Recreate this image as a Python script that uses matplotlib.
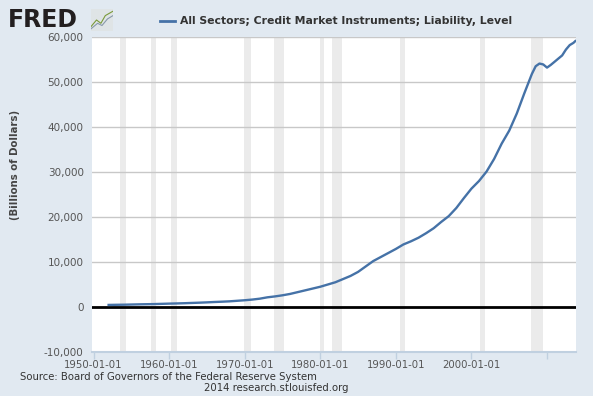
import matplotlib
matplotlib.use("Agg")
import matplotlib.pyplot as plt
import matplotlib.dates as mdates
from datetime import date

# series values (billions of dollars)
dates = [date(y, 1, 1) for y in range(1952, 2008)] + [
    date(2008, 1, 1), date(2008, 7, 1), date(2009, 1, 1), date(2009, 7, 1),
    date(2010, 1, 1), date(2010, 7, 1), date(2011, 1, 1), date(2011, 7, 1),
    date(2012, 1, 1), date(2012, 7, 1), date(2013, 1, 1), date(2013, 7, 1),
    date(2013, 10, 1)]
values = [460, 490, 510, 550, 590, 620, 650, 700, 750, 790,
          840, 900, 960, 1030, 1110, 1180, 1260, 1380, 1500, 1650,
          1850, 2150, 2350, 2600, 2900, 3300, 3700, 4100, 4500, 5000,
          5500, 6200, 6900, 7800, 9000, 10200, 11100, 12000, 12900, 13900,
          14600, 15400, 16400, 17500, 18900, 20200, 22000, 24200, 26300, 28000,
          30100, 32900, 36300, 39200, 43000, 47500,
          51800, 53500, 54100, 53900, 53200, 53800, 54500, 55200,
          55900, 57200, 58200, 58700, 59100]

# NBER recessions
recessions = [("1953-07-01", "1954-05-01"), ("1957-08-01", "1958-04-01"),
              ("1960-04-01", "1961-02-01"), ("1969-12-01", "1970-11-01"),
              ("1973-11-01", "1975-03-01"), ("1980-01-01", "1980-07-01"),
              ("1981-07-01", "1982-11-01"), ("1990-07-01", "1991-03-01"),
              ("2001-03-01", "2001-11-01"), ("2007-12-01", "2009-06-01")]

yticks = [-10000, 0, 10000, 20000, 30000, 40000, 50000, 60000]
xtick_years = [1950, 1960, 1970, 1980, 1990, 2000, 2010]

bg = "#e1e9f1"
fig = plt.figure(figsize=(5.93, 3.96), dpi=100, facecolor=bg)
ax = fig.add_axes([92 / 593, 1 - 352 / 396, (576 - 92) / 593, (352 - 37) / 396])
ax.set_facecolor("white")

for a, b in recessions:
    ax.axvspan(mdates.datestr2num(a), mdates.datestr2num(b), color="#ebebeb", lw=0, zorder=0)

for v in yticks[2:]:
    ax.axhline(v, color="#c8c8c8", lw=1, zorder=1)
ax.axhline(0, color="black", lw=2, zorder=2)

ax.plot(dates, values, color="#4572a7", lw=1.7, zorder=3)

ax.set_xlim(mdates.datestr2num("1949-10-20"), mdates.datestr2num("2013-11-01"))
ax.set_ylim(-10000, 60000)

ax.set_yticks(yticks)
ax.set_yticklabels([f"{v:,}" for v in yticks])
ax.tick_params(axis="y", length=0, pad=6, labelsize=7.5, labelcolor="#555555")

xt = [mdates.date2num(date(y, 1, 1)) for y in xtick_years]
ax.set_xticks(xt)
ax.set_xticklabels([f"{y}-01-01" if y < 2010 else "" for y in xtick_years])
ax.tick_params(axis="x", length=5, width=1, color="#c0d0e0", pad=1,
               labelsize=7.3, labelcolor="#555555")

for s in ["top", "right", "left"]:
    ax.spines[s].set_visible(False)
ax.spines["bottom"].set_color("#c0d0e0")
ax.spines["bottom"].set_linewidth(1.5)

fig.text(15 / 593, 1 - 165 / 396, "(Billions of Dollars)", rotation=90,
         ha="center", va="center", fontsize=7.3, fontweight="bold", color="#444444")

# header
fig.text(8 / 593, 1 - 20 / 396, "FRED", fontsize=17, fontweight="black",
         color="#231f20", va="center", ha="left")
icon = fig.add_axes([91 / 593, 1 - 31 / 396, 22 / 593, 22 / 396])
icon.set_facecolor("#dfe4e6")
icon.plot([0, 0.25, 0.45, 0.65, 1], [0.2, 0.5, 0.35, 0.7, 0.9], color="#7a9a3a", lw=0.8)
icon.plot([0, 0.3, 0.5, 0.75, 1], [0.1, 0.35, 0.25, 0.55, 0.7], color="#8899aa", lw=0.8)
icon.set_xlim(0, 1)
icon.set_ylim(0, 1)
icon.set_xticks([])
icon.set_yticks([])
for s in icon.spines.values():
    s.set_visible(False)

fig.lines.append(plt.Line2D([160 / 593, 175 / 593], [1 - 21 / 396, 1 - 21 / 396],
                            transform=fig.transFigure, color="#4572a7", lw=2))
fig.text(180 / 593, 1 - 21 / 396, "All Sectors; Credit Market Instruments; Liability, Level",
         fontsize=7.8, fontweight="bold", color="#333333", va="center", ha="left")

fig.text(20 / 593, 1 - 377 / 396, "Source: Board of Governors of the Federal Reserve System",
         fontsize=7.3, color="#333333", va="center", ha="left")
fig.text(276 / 593, 1 - 388 / 396, "2014 research.stlouisfed.org",
         fontsize=7.3, color="#333333", va="center", ha="center")

fig.savefig("out.png", dpi=100, facecolor=bg)
